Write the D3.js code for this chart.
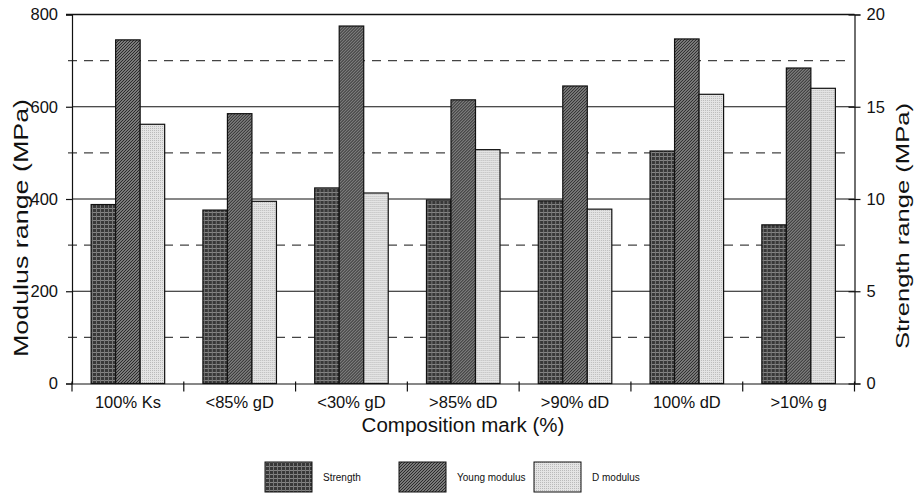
<!DOCTYPE html>
<html>
<head>
<meta charset="utf-8">
<script src="https://cdn.jsdelivr.net/npm/d3@7"></script>
<style>
  html, body { margin: 0; padding: 0; background: #fff; }
  svg { display: block; font-family: "Liberation Sans", Arial, sans-serif; }
</style>
</head>
<body>
<svg id="chart" width="914" height="494"></svg>
<script>
// ---- data ----
const categories = ["100% Ks", "<85% gD", "<30% gD", ">85% dD", ">90% dD", "100% dD", ">10% g"];
const strength = [9.7, 9.4, 10.6, 9.95, 9.9, 12.6, 8.6];       // MPa (right axis)
const youngModulus = [745, 585, 775, 615, 645, 747, 684];       // MPa (left axis)
const dModulus = [562, 395, 413, 507, 378, 627, 640];           // MPa (left axis)
const leftTicks = [0, 200, 400, 600, 800];
const leftMinor = [100, 300, 500, 700];
const rightTicks = [0, 5, 10, 15, 20];
const seriesNames = ["Strength", "Young modulus", "D modulus"];

const svg = d3.select("#chart");
const L = 72, R = 854.5, T = 14.5, B = 383.5;

const x0 = d3.scaleBand().domain(categories).range([L, R]).padding(0);
const x1 = d3.scaleBand().domain(seriesNames).range([0, x0.bandwidth()])
  .paddingInner(0).paddingOuter(0.78);
const yL = d3.scaleLinear().domain([0, 800]).range([B, T]);
const yR = d3.scaleLinear().domain([0, 20]).range([B, T]);

// ---- patterns ----
const defs = svg.append("defs");
// strength: dark crosshatch
const p1 = defs.append("pattern").attr("id", "pStrength").attr("patternUnits", "userSpaceOnUse")
  .attr("width", 4).attr("height", 4);
p1.append("rect").attr("width", 4).attr("height", 4).attr("fill", "#383838");
p1.append("rect").attr("x", 0).attr("y", 0).attr("width", 4).attr("height", 1).attr("fill", "#858585");
p1.append("rect").attr("x", 0).attr("y", 0).attr("width", 1).attr("height", 4).attr("fill", "#767676");
// young: diagonal hatch
const p2 = defs.append("pattern").attr("id", "pYoung").attr("patternUnits", "userSpaceOnUse")
  .attr("width", 3).attr("height", 3);
p2.append("rect").attr("width", 3).attr("height", 3).attr("fill", "#9c9c9c");
p2.append("path").attr("d", "M-1,1 l2,-2 M0,3 l3,-3 M2,4 l2,-2").attr("stroke", "#262626").attr("stroke-width", 1.1);
// D modulus: light stipple
const p3 = defs.append("pattern").attr("id", "pD").attr("patternUnits", "userSpaceOnUse")
  .attr("width", 2).attr("height", 2);
p3.append("rect").attr("width", 2).attr("height", 2).attr("fill", "#e4e4e4");
p3.append("rect").attr("x", 0).attr("y", 0).attr("width", 1).attr("height", 1).attr("fill", "#bababa");
const fills = { "Strength": "url(#pStrength)", "Young modulus": "url(#pYoung)", "D modulus": "url(#pD)" };

// ---- gridlines ----
svg.append("g").selectAll("line").data(leftMinor).join("line")
  .attr("x1", L - 4).attr("x2", R - 4)
  .attr("y1", d => yL(d)).attr("y2", d => yL(d))
  .attr("stroke", "#444").attr("stroke-width", 1.1).attr("stroke-dasharray", "9,7");
svg.append("g").selectAll("line").data(leftTicks.filter(d => d > 0)).join("line")
  .attr("x1", L).attr("x2", R)
  .attr("y1", d => yL(d)).attr("y2", d => yL(d))
  .attr("stroke", "#111").attr("stroke-width", 1.2);

// ---- bars ----
const rows = categories.map((c, i) => ({
  cat: c,
  vals: [
    { s: "Strength", y: yR(strength[i]) },
    { s: "Young modulus", y: yL(youngModulus[i]) },
    { s: "D modulus", y: yL(dModulus[i]) }
  ]
}));
const g = svg.append("g").selectAll("g").data(rows).join("g")
  .attr("transform", d => `translate(${x0(d.cat)},0)`);
g.selectAll("rect").data(d => d.vals).join("rect")
  .attr("x", d => x1(d.s))
  .attr("width", x1.bandwidth())
  .attr("y", d => d.y)
  .attr("height", d => B - d.y)
  .attr("fill", d => fills[d.s])
  .attr("stroke", "#111").attr("stroke-width", 1.2);

// ---- axes ----
const axL = svg.append("g").attr("transform", `translate(${L},0)`)
  .call(d3.axisLeft(yL).tickValues(leftTicks).tickSize(6).tickPadding(8));
const axR = svg.append("g").attr("transform", `translate(${R},0)`)
  .call(d3.axisRight(yR).tickValues(rightTicks).tickSize(6).tickPadding(6));
[axL, axR].forEach(a => {
  a.select(".domain").attr("stroke", "#111").attr("stroke-width", 1.2);
  a.selectAll(".tick line").attr("stroke", "#111").attr("stroke-width", 1.2);
  a.selectAll("text").attr("font-size", 16.5).attr("fill", "#111")
    .attr("font-family", "'Liberation Sans', Arial, sans-serif");
});
axR.selectAll(".tick line").attr("x1", -6);
// top frame & bottom axis
svg.append("line").attr("x1", L - 6).attr("x2", R).attr("y1", yL(800)).attr("y2", yL(800))
  .attr("stroke", "#111").attr("stroke-width", 1.4);
const axB = svg.append("g").attr("transform", `translate(0,${B})`)
  .call(d3.axisBottom(x0).tickSize(0).tickPadding(13));
axB.select(".domain").attr("stroke", "#111").attr("stroke-width", 1.2);
axB.selectAll("text").attr("font-size", 16.5).attr("fill", "#111")
  .attr("font-family", "'Liberation Sans', Arial, sans-serif");
// category separator ticks
const bounds = categories.map(c => x0(c)).concat([R]);
svg.append("g").selectAll("line").data(bounds).join("line")
  .attr("x1", d => d).attr("x2", d => d).attr("y1", B - 2).attr("y2", B + 8)
  .attr("stroke", "#111").attr("stroke-width", 1.2);

// ---- axis titles ----
svg.append("text").attr("transform", `translate(28,${(T + B) / 2 + 29}) rotate(-90)`)
  .attr("text-anchor", "middle").attr("font-size", 20).attr("fill", "#111")
  .attr("textLength", 258).attr("lengthAdjust", "spacingAndGlyphs")
  .text("Modulus range (MPa)");
svg.append("text").attr("transform", `translate(909,${(T + B) / 2 + 27}) rotate(-90)`)
  .attr("text-anchor", "middle").attr("font-size", 19).attr("fill", "#111")
  .attr("textLength", 246).attr("lengthAdjust", "spacingAndGlyphs")
  .text("Strength range (MPa)");
svg.append("text").attr("x", 463).attr("y", 432)
  .attr("text-anchor", "middle").attr("font-size", 20.5).attr("fill", "#111")
  .text("Composition mark (%)");

// ---- legend ----
const legX = [265, 399, 534];
const leg = svg.append("g").selectAll("g").data(seriesNames).join("g")
  .attr("transform", (d, i) => `translate(${legX[i]},462)`);
leg.append("rect").attr("width", 47).attr("height", 30)
  .attr("fill", d => fills[d]).attr("stroke", "#111").attr("stroke-width", 1);
leg.append("text").attr("x", 58).attr("y", 19).attr("font-size", 10).attr("fill", "#111")
  .text(d => d);
</script>
</body>
</html>
